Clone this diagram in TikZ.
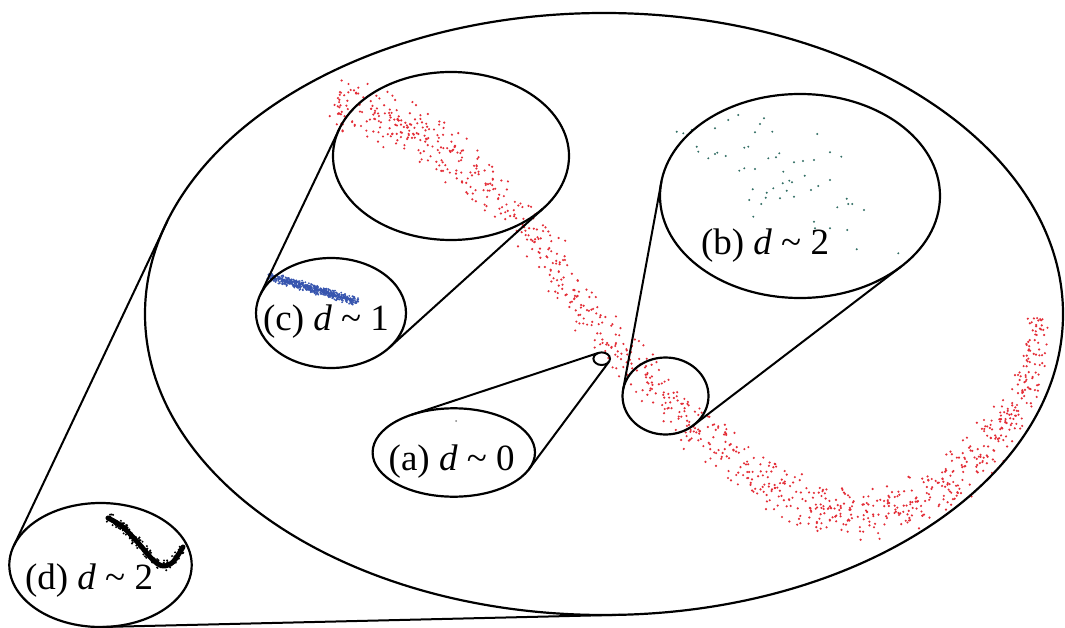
\documentclass[tikz,border=0pt]{standalone}
\usepackage{fontspec}
\setmainfont{Liberation Serif}
\usetikzlibrary{shapes.geometric}
\definecolor{rdot}{RGB}{228,45,55}
\definecolor{gdot}{RGB}{50,110,100}
\definecolor{bdot}{RGB}{55,85,175}
\tikzset{
  ell/.style={draw, ellipse, inner sep=0pt, outer sep=0pt, line width=2.2pt},
  conn/.style={line width=2pt},
  lab/.style={inner sep=0pt, font=\fontsize{37}{40}\selectfont}
}
\newcommand{\bandpts}[3]{% #1 list, #2 colour, #3 radius
  \foreach \ax/\ay/\bx/\by/\n/\s in {#1}{
    \pgfmathsetmacro\dx{\bx-\ax}
    \pgfmathsetmacro\dy{\by-\ay}
    \pgfmathsetmacro\len{veclen(\dx,\dy)}
    \pgfmathsetmacro\nx{-\dy/\len}
    \pgfmathsetmacro\ny{\dx/\len}
    \foreach \i in {1,...,\n}{
      \pgfmathsetmacro\t{rnd}
      \pgfmathsetmacro\o{\s*(rand+rand)/2}
      \pgfmathsetmacro\px{\ax+\t*\dx+\o*\nx}
      \pgfmathsetmacro\py{\ay+\t*\dy+\o*\ny}
      \fill[#2] (\px,\py) circle (#3);
    }
  }
}
\begin{document}
\begin{tikzpicture}[x=1pt,y=-1pt]
\useasboundingbox (0,0) rectangle (1065,628);
\fill[white] (0,0) rectangle (1065,628);
\pgfmathsetseed{7}
% red band
\bandpts{335/100/390/118/80/32, 390/118/443/143/85/32, 443/143/500/197/85/28,
  500/197/560/270/80/24, 560/270/600/330/60/22, 600/330/640/372/55/24,
  640/372/690/425/70/26, 690/425/740/462/65/28, 740/462/790/495/70/30,
  790/495/840/515/70/30, 840/515/890/512/65/30, 890/512/930/495/55/30,
  930/495/965/470/55/30, 965/470/1000/435/60/28, 1000/435/1025/395/55/22,
  1025/395/1035/350/50/16, 1035/350/1040/318/30/14}{rdot}{1.2pt}
% blue band
\bandpts{268/276/358/302/600/5}{bdot}{1pt}
% black curve
\draw[line width=5pt, line cap=round, line join=round]
  plot[smooth] coordinates {(108,518) (123,527) (140,545) (153,560) (163,566) (173,562) (183,547)};
\bandpts{108/518/123/527/30/6, 123/527/140/545/35/6, 140/545/153/560/30/6,
  153/560/163/566/20/6, 163/566/173/562/20/6, 173/562/183/547/25/6}{black}{1.1pt}
% green dots
\foreach \px/\py in {676.7/131.7, 683.3/133.3, 691.7/130, 715/128.3, 728.3/120, 738.3/115,
  760/124, 764/118.3, 755/132.3, 772.3/131.7, 817.3/134, 696.7/146.7, 698.3/151.7,
  708.3/158.3, 715/154, 717.3/152.7, 725.7/156, 744.3/147.7, 748.3/146.7, 768.3/158.3,
  776/157.3, 779.3/153.3, 794/162.3, 803/161, 814/160, 830/152.3, 841.3/156.7,
  739.3/170.7, 744.3/168.3, 755/169, 783.3/171.7, 804.7/175.7, 830/180, 752.7/189.3,
  766.7/192.7, 773.3/188.3, 782.7/183.3, 789.3/180.7, 792/182.3, 786.7/190.7, 811/190,
  818.3/186, 749.3/200, 765.7/197.7, 780/198.3, 794/196.7, 761.3/204, 846.7/198.7,
  848.3/204, 852.3/204, 837.3/207.3, 864/210, 753.3/216.7, 814/221.7, 815/228.3,
  830/228.3, 847.3/230, 856.7/249.3, 898.3/253.3}
  {\fill[gdot] (\px,\py) circle (1.1pt);}
% single point
\fill[gray] (456,421) circle (1pt);
% ellipses
\node[ell, minimum width=918pt, minimum height=602pt] (E0) at (604,314) {};
\node[ell, minimum width=236pt, minimum height=168pt] (Ec1) at (451,156) {};
\node[ell, minimum width=150pt, minimum height=110pt] (Ec2) at (331,313) {};
\node[ell, minimum width=280pt, minimum height=204pt] (Eb1) at (800,196) {};
\node[ell, minimum width=86pt, minimum height=77pt] (Eb2) at (665.5,396) {};
\node[ell, minimum width=16.6pt, minimum height=12.6pt, line width=2pt] (Ea1) at (601.7,358.7) {};
\node[ell, minimum width=162.4pt, minimum height=88.4pt] (Ea2) at (453.8,452.5) {};
\node[ell, minimum width=182.4pt, minimum height=124pt] (Ed) at (100.5,565) {};
% tangent connectors
\draw[conn] (Ec1.166.5) -- (Ec2.165.7);
\draw[conn] (Ec1.330.7) -- (Ec2.329.2);
\draw[conn] (Eb1.174.4) -- (Eb2.171.5);
\draw[conn] (Eb1.325.2) -- (Eb2.313.6);
\draw[conn] (Ea1.119.6) -- (Ea2.138.1);
\draw[conn] (Ea1.336.7) -- (Ea2.347.5);
\draw[conn] (E0.168.5) -- (Ed.167.7);
\draw[conn] (E0.273) -- (Ed.272.8);
% labels
\node[lab] (La) at (451.7,461.7) {(a) \textit{d} \textasciitilde{} 0};
\node[lab] (Lb) at (765,246) {(b) \textit{d} \textasciitilde{} 2};
\node[lab] (Lc) at (326,321.7) {(c) \textit{d} \textasciitilde{} 1};
\node[lab] (Ld) at (89,581) {(d) \textit{d} \textasciitilde{} 2};
\end{tikzpicture}
\end{document}
